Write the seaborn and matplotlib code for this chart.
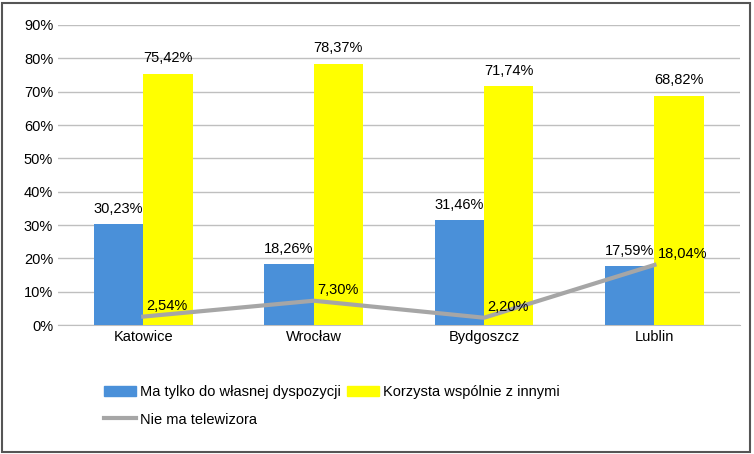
import matplotlib
matplotlib.use("Agg")
import matplotlib.pyplot as plt
import seaborn as sns
import pandas as pd
from matplotlib.patches import Rectangle
from matplotlib.lines import Line2D

cities = ["Katowice", "Wrocław", "Bydgoszcz", "Lublin"]
own = [30.23, 18.26, 31.46, 17.59]
shared = [75.42, 78.37, 71.74, 68.82]
none_tv = [2.54, 7.30, 2.20, 18.04]
s_own = "Ma tylko do własnej dyspozycji"
s_shared = "Korzysta wspólnie z innymi"
s_none = "Nie ma telewizora"
yticks = [0, 10, 20, 30, 40, 50, 60, 70, 80, 90]

plt.rcParams["font.family"] = "Liberation Sans"
df = pd.DataFrame({"city": cities * 2, "val": own + shared,
                   "series": [s_own] * 4 + [s_shared] * 4})

fig = plt.figure(figsize=(7.54, 4.54), dpi=100)
fig.patches.append(Rectangle((0.002, 0.004), 0.993, 0.99, transform=fig.transFigure,
                             fill=False, edgecolor="#555555", lw=1.5))
ax = fig.add_axes([0.077, 0.284, 0.904, 0.661])
colors = {s_own: "#4A90D9", s_shared: "#FFFF00"}
sns.barplot(data=df, x="city", y="val", hue="series", palette=colors, ax=ax,
            width=0.58, saturation=1, legend=False, zorder=3)
sns.lineplot(x=list(range(len(cities))), y=none_tv, color="#A6A6A6", lw=3, ax=ax, zorder=4)

fmt = lambda v: f"{v:.2f}".replace(".", ",") + "%"
for c in ax.containers:
    ax.bar_label(c, labels=[fmt(v) for v in c.datavalues], padding=6, fontsize=10.5)
for i, v in enumerate(none_tv):
    ax.text(i + 0.02, v + 1.2, fmt(v), fontsize=10.5, va="bottom", ha="left", zorder=5)

ax.set_ylim(0, 90)
ax.set_xlim(-0.5, 3.5)
ax.set_yticks(yticks)
ax.set_yticklabels([f"{t}%" for t in yticks], fontsize=10.5)
ax.tick_params(axis="x", labelsize=10.5, length=0)
ax.tick_params(axis="y", length=0)
ax.yaxis.grid(True, color="#BFBFBF", lw=1, zorder=0)
ax.set_axisbelow(True)
ax.set_xlabel(""); ax.set_ylabel("")
for s in ["top", "right", "left"]:
    ax.spines[s].set_visible(False)
ax.spines["bottom"].set_color("#BFBFBF")

handles = [Rectangle((0, 0), 1, 1, color="#4A90D9"), Line2D([], [], color="#A6A6A6", lw=3),
           Rectangle((0, 0), 1, 1, color="#FFFF00")]
fig.legend(handles, [s_own, s_none, s_shared], ncol=2, loc="upper left",
           bbox_to_anchor=(0.12, 0.18), frameon=False, fontsize=10.5,
           handlelength=2.2, columnspacing=0.4, handletextpad=0.3, labelspacing=0.9)
fig.savefig("out.png", dpi=100)
